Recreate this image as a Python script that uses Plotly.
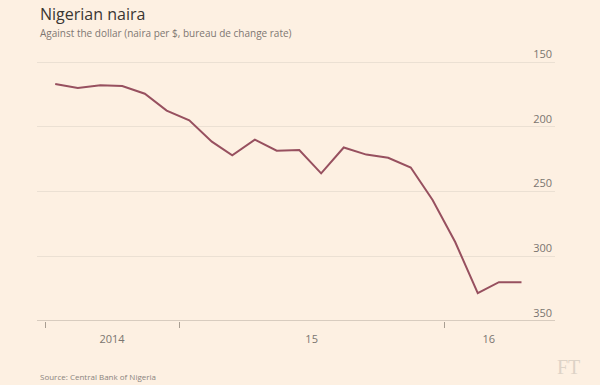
import plotly.graph_objects as go

# Data: monthly (mid-month) naira per $ at bureau de change
dates = ["2014-07-15", "2014-08-15", "2014-09-15", "2014-10-15", "2014-11-15", "2014-12-15",
         "2015-01-15", "2015-02-15", "2015-03-15", "2015-04-15", "2015-05-15", "2015-06-15",
         "2015-07-15", "2015-08-15", "2015-09-15", "2015-10-15", "2015-11-15", "2015-12-15",
         "2016-01-15", "2016-02-15", "2016-03-15", "2016-04-15"]
rates = [167, 170, 168, 168.5, 174.5, 187.5,
         195, 211.5, 222, 210, 218.5, 218,
         236, 216, 221.5, 224, 231.5, 256.5,
         289, 328.5, 320, 320]

# Axis ticks / labels
x_label_pos = ["2014-10-01", "2015-07-02", "2016-03-01"]
x_label_text = ["2014", "15", "16"]
x_boundaries = ["2014-07-01", "2015-01-01", "2016-01-01", "2016-05-01"]
y_ticks = [150, 200, 250, 300, 350]

BG = "#fdf0e2"

fig = go.Figure()
fig.add_trace(go.Scatter(
    x=dates, y=rates, mode="lines",
    line=dict(color="#97505f", width=2),
    hoverinfo="x+y", showlegend=False,
))

fig.update_layout(
    width=600, height=385,
    paper_bgcolor=BG, plot_bgcolor=BG,
    margin=dict(l=37, r=45, t=40, b=64),
    font=dict(family="Open Sans, sans-serif", color="#7a7570"),
    xaxis=dict(
        type="date",
        range=["2014-06-20", "2016-05-31"],
        tickmode="array", tickvals=x_label_pos, ticktext=x_label_text,
        ticks="", ticklabelstandoff=10,
        tickfont=dict(size=11, color="#7a7570"),
        showgrid=False, zeroline=False,
        showline=False,
        minor=dict(tickmode="array", tickvals=x_boundaries, ticks="outside",
                   ticklen=6, tickwidth=1, tickcolor="#a89e92", showgrid=False),
    ),
    yaxis=dict(
        range=[350, 133],
        side="right",
        tickmode="array", tickvals=y_ticks,
        ticklabelposition="inside",
        ticklabelshift=8,
        tickfont=dict(size=11, color="#7a7570"),
        showgrid=True, gridcolor="#ebe0d3", gridwidth=1,
        zeroline=False, showline=False, ticks="",
    ),
    shapes=[dict(type="line", xref="paper", yref="y", x0=0, x1=1, y0=350, y1=350,
                 line=dict(color="#b3a99d", width=1))],
    annotations=[
        dict(text="Nigerian naira", xref="paper", yref="paper", x=0, y=1,
             xanchor="left", yanchor="middle", xshift=1, yshift=26, showarrow=False,
             font=dict(size=16, color="#3a3632")),
        dict(text="Against the dollar (naira per $, bureau de change rate)",
             xref="paper", yref="paper", x=0, y=1, xanchor="left", yanchor="middle",
             xshift=1, yshift=7, showarrow=False,
             font=dict(size=10, color="#7d7772")),
        dict(text="Source: Central Bank of Nigeria", xref="paper", yref="paper",
             x=0, y=0, xanchor="left", yanchor="middle", xshift=1, yshift=-55,
             showarrow=False, font=dict(size=8, color="#8a847e")),
        dict(text="FT", xref="paper", yref="paper", x=1, y=0, xanchor="left",
             yanchor="middle", xshift=0, yshift=-46, showarrow=False,
             font=dict(size=20, color="#ddd3c7", family="Liberation Serif, serif")),
    ],
)

fig.write_html("out.html", config={"displayModeBar": False},
               post_script="document.body.style.margin='0';")
